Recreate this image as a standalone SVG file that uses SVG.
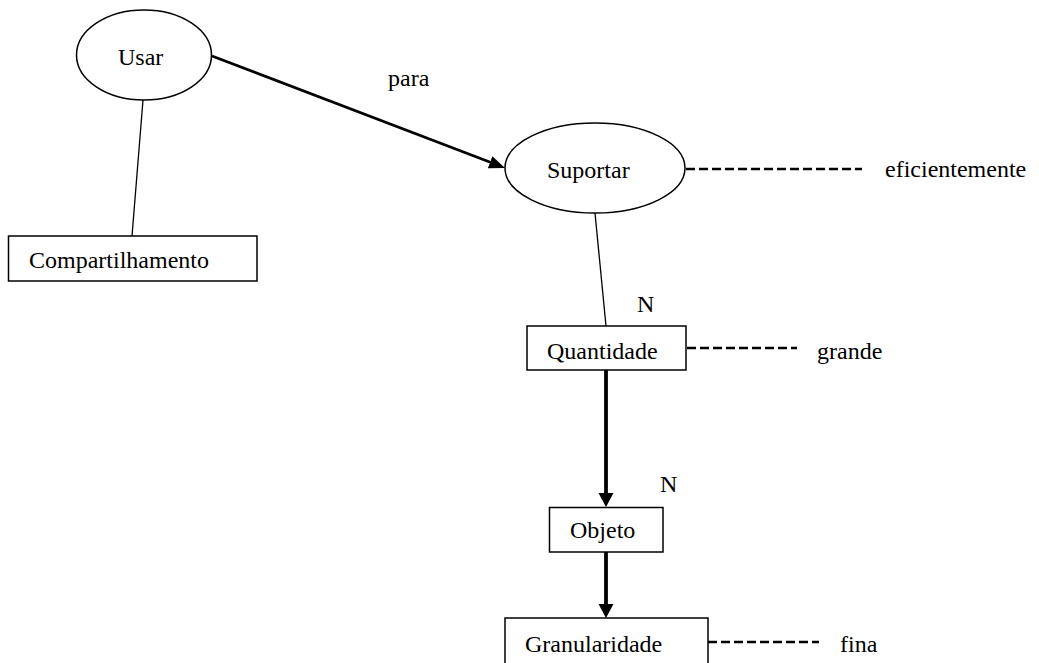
<svg xmlns="http://www.w3.org/2000/svg" width="1039" height="663" viewBox="0 0 1039 663">
<style>
.shape{fill:#fff;stroke:#000;stroke-width:1.5}
.t{font-family:"Liberation Serif","Times New Roman",serif;font-size:24px;fill:#000}
.thin{stroke:#000;stroke-width:1.3;fill:none}
.dash{stroke:#000;stroke-width:2.5;stroke-dasharray:9 4;fill:none}
.arr1{stroke:#000;stroke-width:2.7;fill:none}
.arr2{stroke:#000;stroke-width:3.8;fill:none}
</style>
<defs>
<marker id="ah1" viewBox="0 -7 16 14" markerWidth="16" markerHeight="14" refX="1" refY="0" markerUnits="userSpaceOnUse" orient="auto">
<path d="M0,-6.5 L16,0 L0,6.5 z" fill="#000"/>
</marker>
<marker id="ah2" viewBox="0 -8 14 16" markerWidth="14" markerHeight="16" refX="1" refY="0" markerUnits="userSpaceOnUse" orient="auto">
<path d="M0,-7.5 L14,0 L0,7.5 z" fill="#000"/>
</marker>
</defs>
<rect width="1039" height="663" fill="#fff"/>
<g id="connectors">
<line class="thin" x1="143" y1="100" x2="132" y2="236"/>
<line class="arr1" x1="212" y1="56" x2="491" y2="162.6" marker-end="url(#ah1)"/>
<text class="t" x="388" y="86">para</text>
<line class="thin" x1="595" y1="213" x2="606" y2="326"/>
<line class="dash" x1="686" y1="169" x2="862" y2="169"/>
<line class="dash" x1="687" y1="348" x2="797" y2="348"/>
<line class="arr2" x1="606" y1="370" x2="606" y2="494" marker-end="url(#ah2)"/>
<line class="arr2" x1="606" y1="552" x2="606" y2="605" marker-end="url(#ah2)"/>
<line class="dash" x1="708" y1="642" x2="819" y2="642"/>
</g>
<g id="node-usar">
<ellipse class="shape" cx="144" cy="55" rx="67.5" ry="45"/>
<text class="t" x="118" y="65">Usar</text>
</g>
<g id="node-compartilhamento">
<rect class="shape" x="8.5" y="236" width="248.5" height="45"/>
<text class="t" x="29" y="268">Compartilhamento</text>
</g>
<g id="node-suportar">
<ellipse class="shape" cx="595" cy="168" rx="90" ry="45"/>
<text class="t" x="547" y="178">Suportar</text>
</g>
<g id="node-eficientemente">
<text class="t" x="885" y="177">eficientemente</text>
</g>
<g id="node-quantidade">
<rect class="shape" x="527" y="326" width="159" height="44"/>
<text class="t" x="547" y="359">Quantidade</text>
<text class="t" x="637" y="312">N</text>
</g>
<g id="node-grande">
<text class="t" x="817" y="359">grande</text>
</g>
<g id="node-objeto">
<rect class="shape" x="549.5" y="507.5" width="113.5" height="44.5"/>
<text class="t" x="570" y="538">Objeto</text>
<text class="t" x="660" y="492">N</text>
</g>
<g id="node-granularidade">
<rect class="shape" x="505" y="618" width="203" height="50"/>
<text class="t" x="525" y="652">Granularidade</text>
</g>
<g id="node-fina">
<text class="t" x="840" y="652">fina</text>
</g>
</svg>
